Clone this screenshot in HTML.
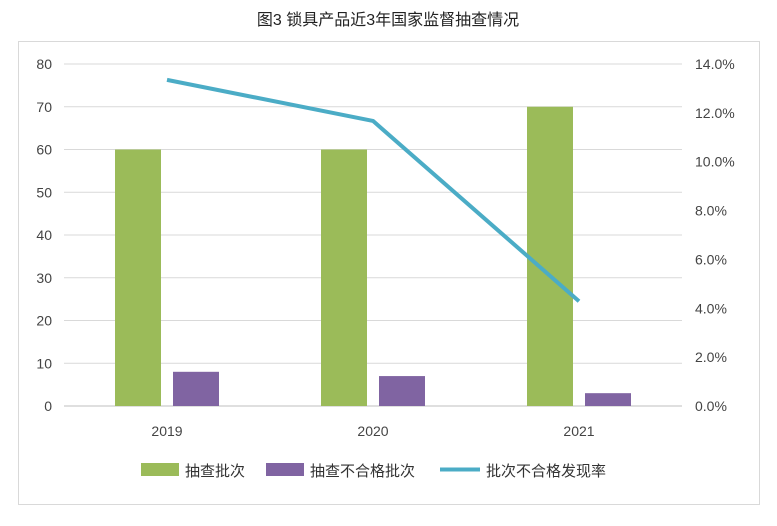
<!DOCTYPE html>
<html><head><meta charset="utf-8"><style>
body{margin:0;background:#fff;}
svg text{font-family:"Liberation Sans","Noto Sans CJK SC",sans-serif;}
</style></head><body>
<svg id="chart" width="777" height="521" xmlns="http://www.w3.org/2000/svg">
<rect x="0" y="0" width="777" height="521" fill="#fff"/>
<rect x="18.5" y="41.5" width="741" height="463" fill="none" stroke="#d9d9d9"/>
<text x="388" y="25" text-anchor="middle" font-size="16" fill="#222">图3 锁具产品近3年国家监督抽查情况</text>
<g id="grid"></g><g id="bars"></g><g id="line"></g><g id="axes"></g>
<g>
<rect x="141" y="463" width="38" height="13" fill="#9bbb59"/>
<text x="185" y="476" font-size="15" fill="#333">抽查批次</text>
<rect x="266" y="463" width="38" height="13" fill="#8064a2"/>
<text x="310" y="476" font-size="15" fill="#333">抽查不合格批次</text>
<line x1="440" y1="469.5" x2="480" y2="469.5" stroke="#4bacc6" stroke-width="4"/>
<text x="486" y="476" font-size="15" fill="#333">批次不合格发现率</text>
</g>
</svg>
<script>
const categories=["2019","2020","2021"];
const sampled=[60,60,70];
const failed=[8,7,3];
const rate=[13.35,11.67,4.29];
const leftTicks=[0,10,20,30,40,50,60,70,80];
const rightTicks=[0,2,4,6,8,10,12,14];
const NS="http://www.w3.org/2000/svg";
const x0=64,x1=682,yb=406,yt=64;
const yL=v=>yb-(v/80)*(yb-yt);
const yR=v=>yb-(v/14)*(yb-yt);
const bw=(x1-x0)/categories.length;
const xc=i=>x0+bw*(i+0.5);
function mk(tag,attrs,parent){const e=document.createElementNS(NS,tag);for(const k in attrs)e.setAttribute(k,attrs[k]);document.getElementById(parent).appendChild(e);return e;}
leftTicks.forEach(t=>{
  const g=mk('line',{x1:x0,x2:x1,y1:yL(t),y2:yL(t),stroke:t===0?'#bfbfbf':'#d9d9d9','stroke-width':1},'grid');
  
  
  const tx=mk('text',{x:52,y:yL(t)+5,'text-anchor':'end','font-size':14,fill:'#444'},'axes');
  tx.textContent=t;
  
  
});
rightTicks.forEach(t=>{
  const tx=mk('text',{x:695,y:yR(t)+5,'font-size':14,fill:'#444'},'axes');
  tx.textContent=t.toFixed(1)+'%';
  
  
});
categories.forEach((c,i)=>{
  const tx=mk('text',{x:xc(i),y:436,'text-anchor':'middle','font-size':14,fill:'#444'},'axes');
  tx.textContent=c;
  
  
  const b1=mk('rect',{x:xc(i)-52,y:yL(sampled[i]),width:46,height:yb-yL(sampled[i]),fill:'#9bbb59'},'bars');
  
  
  const b2=mk('rect',{x:xc(i)+6,y:yL(failed[i]),width:46,height:yb-yL(failed[i]),fill:'#8064a2'},'bars');
  
  
});
const pl=mk('polyline',{points:rate.map((v,i)=>xc(i)+','+yR(v)).join(' '),fill:'none',stroke:'#4bacc6','stroke-width':4,'stroke-linejoin':'round'},'line');


</script>
</body></html>
